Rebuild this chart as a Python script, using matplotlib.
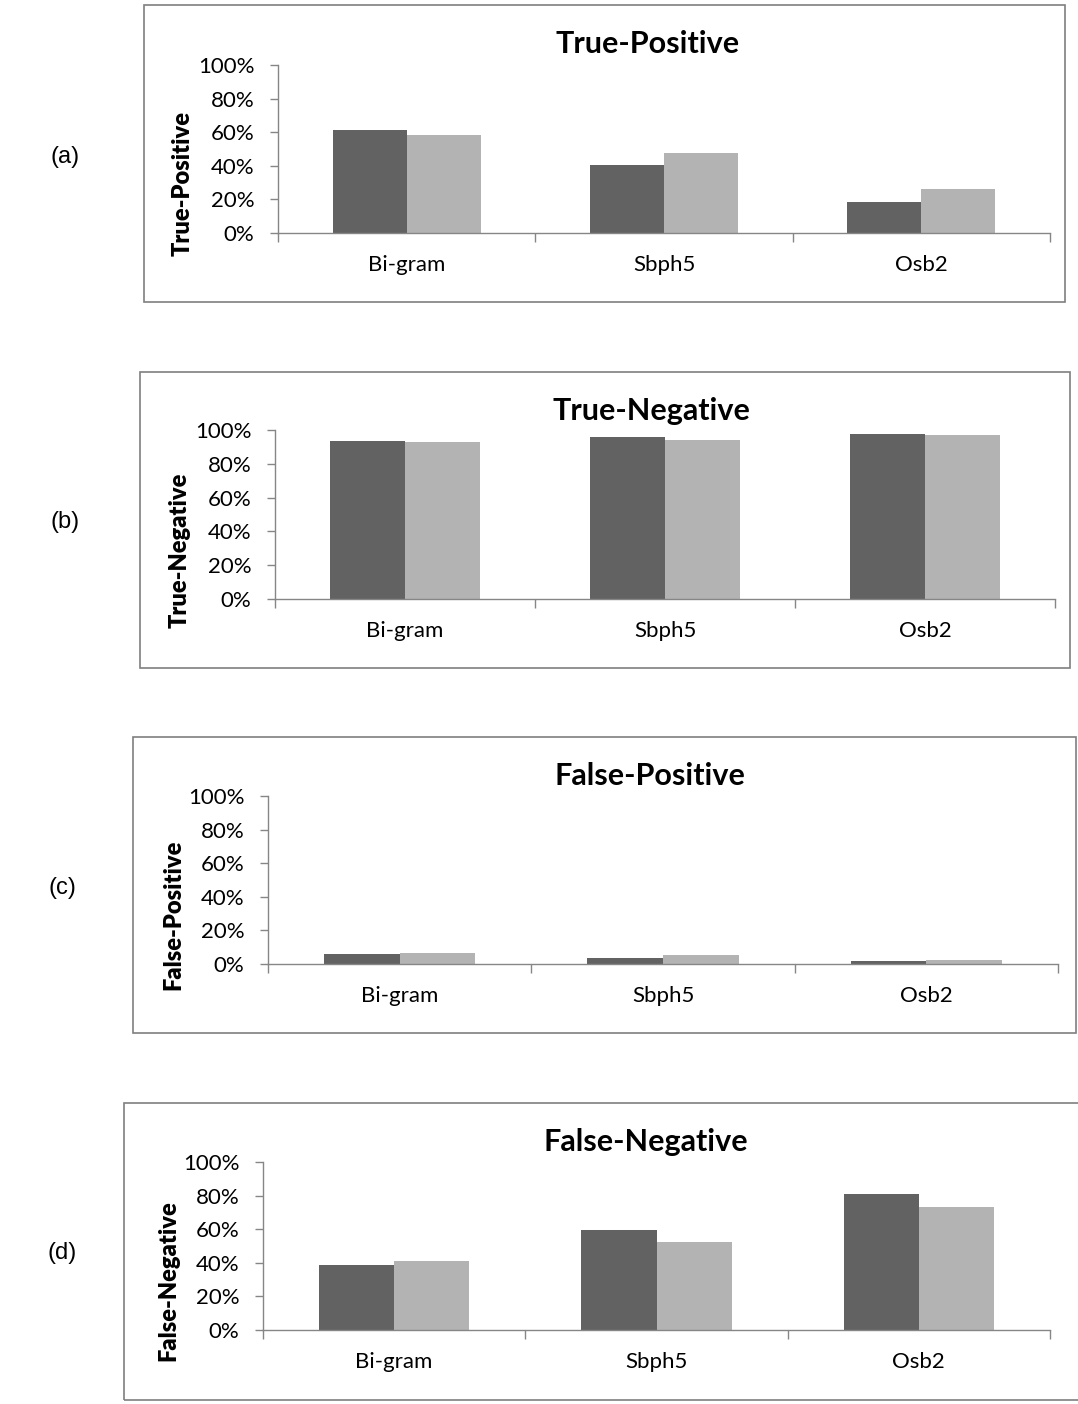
import matplotlib
matplotlib.use('Agg')
import matplotlib.pyplot as plt
from matplotlib.patches import Rectangle

W, H = 1078, 1404

categories = ['Bi-gram', 'Sbph5', 'Osb2']
titles = ['True-Positive', 'True-Negative', 'False-Positive', 'False-Negative']
panel_tags = ['(a)', '(b)', '(c)', '(d)']

# two series per panel: dark bars, light bars
tp_dark = [0.611, 0.403, 0.183]
tp_light = [0.583, 0.474, 0.264]
tn_dark = [0.936, 0.958, 0.978]
tn_light = [0.929, 0.942, 0.968]
fp_dark = [0.060, 0.038, 0.018]
fp_light = [0.068, 0.052, 0.026]
fn_dark = [0.386, 0.595, 0.811]
fn_light = [0.411, 0.523, 0.732]

dark_vals = [tp_dark, tn_dark, fp_dark, fn_dark]
light_vals = [tp_light, tn_light, fp_light, fn_light]

# pixel layout: box (l, t, r, b), axes (l, top100, r, bottom0), tag (x, y), title centre x
boxes = [(144, 5, 1065, 302), (140, 372, 1070, 668), (133, 737, 1076, 1033), (124, 1103, 1080, 1400)]
axes_px = [(278, 65, 1050, 233), (275, 430, 1055, 599), (268, 796, 1058, 964), (263, 1162, 1050, 1330)]
tags_px = [(65, 157), (65, 522), (62, 888), (62, 1253)]
title_x = [648, 651, 650, 646]

DARK = '#626262'
LIGHT = '#b3b3b3'
AXC = '#868686'
bw = 0.287
FONT = 'Lato'

fig = plt.figure(figsize=(W / 100, H / 100), dpi=100)


def fx(px):
    return px / W


def fy(py):
    return 1 - py / H


for i in range(4):
    l, t, r, b = boxes[i]
    fig.patches.append(Rectangle((fx(l), fy(b)), (r - l) / W, (b - t) / H,
                                 transform=fig.transFigure, fill=False,
                                 edgecolor='#7f7f7f', linewidth=1.2))
    al, at, ar, ab = axes_px[i]
    ax = fig.add_axes([fx(al), fy(ab), (ar - al) / W, (ab - at) / H])
    xs = [k + 0.5 for k in range(3)]
    ax.bar([x - bw / 2 for x in xs], dark_vals[i], width=bw, color=DARK)
    ax.bar([x + bw / 2 for x in xs], light_vals[i], width=bw, color=LIGHT)
    ax.set_xlim(0, 3)
    ax.set_ylim(0, 1)
    ax.set_yticks([0, 0.2, 0.4, 0.6, 0.8, 1.0])
    ax.set_yticklabels(['0%', '20%', '40%', '60%', '80%', '100%'], fontfamily=FONT, fontsize=16)
    ax.set_xticks(xs)
    ax.set_xticklabels(categories, fontfamily=FONT, fontsize=16)
    ax.set_xticks([0, 1, 2, 3], minor=True)
    ax.tick_params(axis='x', which='major', length=0, pad=16)
    ax.tick_params(axis='x', which='minor', length=6.5, width=1, color=AXC, direction='out')
    ax.tick_params(axis='y', length=6, width=1, color=AXC, pad=11)
    for s in ['top', 'right']:
        ax.spines[s].set_visible(False)
    for s in ['left', 'bottom']:
        ax.spines[s].set_color(AXC)
        ax.spines[s].set_linewidth(1)

    fig.text(fx(title_x[i]), fy(t + 48), titles[i], fontfamily=FONT, fontweight='bold',
             fontsize=22, ha='center', va='baseline')
    fig.text(fx(al - 95), fy(ab - 49), titles[i], fontfamily=FONT, fontweight='heavy',
             fontsize=17, rotation=90, ha='center', va='center')
    tx, ty = tags_px[i]
    fig.text(fx(tx), fy(ty), panel_tags[i], fontfamily='Liberation Sans', fontsize=17,
             ha='center', va='center')

fig.savefig('out.png', dpi=100)
